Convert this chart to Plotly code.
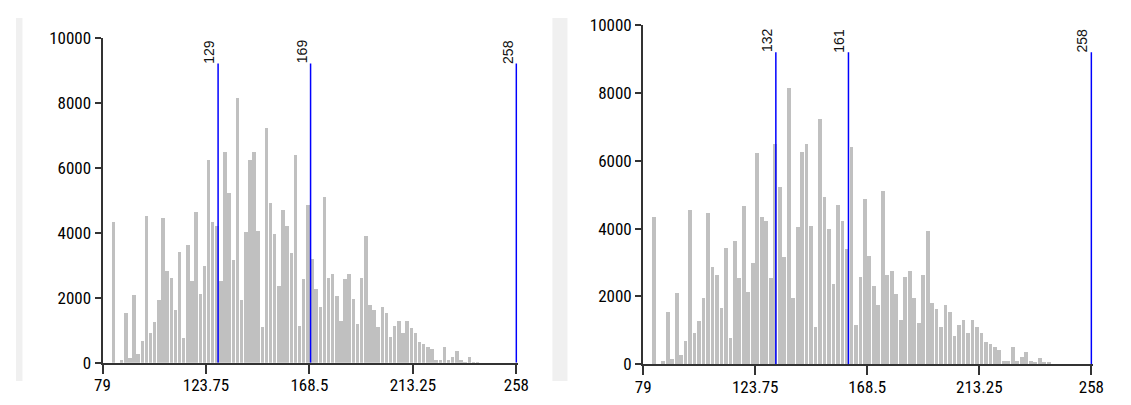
import plotly.graph_objects as go

# ---- data ----
x_min = 79
x_max = 258
n_bins = 100
counts = [0, 0, 4350, 0, 100, 1550, 150, 2090, 275, 680,
          4530, 920, 1270, 1935, 4450, 2850, 2630, 1650, 3430, 780,
          3620, 2530, 4660, 2140, 2980, 6240, 4350, 4220, 2530, 6500,
          5230, 3160, 8140, 1950, 4030, 6250, 6480, 4070, 1100, 7240,
          4920, 3970, 2360, 4700, 4210, 3390, 6410, 1140, 2580, 4870,
          3200, 2290, 1730, 5100, 2630, 2740, 2060, 1300, 2580, 2740,
          1960, 1210, 2620, 3920, 1790, 1630, 1100, 1740, 1540, 820,
          1140, 1290, 920, 1290, 1090, 930, 650, 580, 500, 430,
          100, 100, 500, 100, 200, 370, 100, 50, 190, 50,
          50, 0, 0, 0, 0, 0, 0, 0, 0, 0]
x_tick_vals = [79, 123.75, 168.5, 213.25, 258]
x_tick_text = ["79", "123.75", "168.5", "213.25", "258"]
y_tick_vals = [0, 2000, 4000, 6000, 8000, 10000]
y_tick_text = ["0", "2000", "4000", "6000", "8000", "10000"]
markers_left = [129, 169, 258]
markers_right = [132, 161, 258]
marker_top = 9200

bin_w = (x_max - x_min) / n_bins
centers = [x_min + (i + 0.5) * bin_w for i in range(n_bins)]

# page is 1131x405; the browser body keeps its default 8px margin
PAGE_W, PAGE_H, M = 1131, 405, 8
W, H = PAGE_W - 2 * M, PAGE_H - 2 * M
PAD = 0.6  # small extra room right of 258 so the marker line at 258 is not clipped

def px_x(p):
    return max(0.0, min(1.0, (p - M) / W))

def px_y(p):
    return max(0.0, min(1.0, 1 - (p - M) / H))

def x_domain(p0, p1):
    p1x = p0 + (p1 - p0) * (x_max + PAD - x_min) / (x_max - x_min)
    return [px_x(p0), px_x(p1x)]

fig = go.Figure()
for xa, ya in (("x", "y"), ("x2", "y2")):
    fig.add_trace(go.Bar(x=centers, y=counts, width=bin_w * 0.84,
                         marker=dict(color="#c0c0c0", line=dict(width=0)),
                         xaxis=xa, yaxis=ya, showlegend=False, hoverinfo="x+y"))

tick_font = dict(family="Liberation Sans Narrow, Arial Narrow, Roboto Condensed, Liberation Sans, Arial",
                 size=17, color="#000")

def xaxis_cfg(dom, anchor):
    return dict(domain=dom, anchor=anchor, range=[x_min, x_max + PAD], tickmode="array",
                tickvals=x_tick_vals, ticktext=x_tick_text, showgrid=False, zeroline=False,
                showline=True, linecolor="#333", linewidth=2, ticks="outside", ticklen=9,
                tickwidth=1.5, tickcolor="#333", tickfont=tick_font, fixedrange=True,
                ticklabelstandoff=-3)

def yaxis_cfg(dom, anchor):
    return dict(domain=dom, anchor=anchor, range=[0, 10000], tickmode="array",
                tickvals=y_tick_vals, ticktext=y_tick_text, showgrid=False, zeroline=False,
                showline=True, linecolor="#333", linewidth=2, ticks="outside", ticklen=6,
                tickwidth=1.5, tickcolor="#333", tickfont=tick_font, fixedrange=True)

fig.update_layout(
    width=W, height=H, margin=dict(l=0, r=0, t=0, b=0),
    paper_bgcolor="white", plot_bgcolor="white",
    xaxis=xaxis_cfg(x_domain(96, 517), "y"),
    yaxis=yaxis_cfg([px_y(377.5), px_y(29)], "x"),
    xaxis2=xaxis_cfg(x_domain(646, 1102), "y2"),
    yaxis2=yaxis_cfg([px_y(379), px_y(15.6)], "x2"),
    bargap=0,
)

shapes = [
    dict(type="rect", xref="paper", yref="paper", x0=px_x(2), x1=px_x(14.6), y0=px_y(405), y1=px_y(0),
         fillcolor="#f0f0f0", line=dict(width=0), layer="below"),
    dict(type="rect", xref="paper", yref="paper", x0=px_x(553.7), x1=px_x(569), y0=px_y(405), y1=px_y(0),
         fillcolor="#f0f0f0", line=dict(width=0), layer="below"),
]
annotations = []
for vals, xr, yr in ((markers_left, "x", "y"), (markers_right, "x2", "y2")):
    for v in vals:
        shapes.append(dict(type="line", xref=xr, yref=yr, x0=v, x1=v, y0=0, y1=marker_top,
                           line=dict(color="#0000ff", width=1.5)))
        annotations.append(dict(xref=xr, yref=yr, x=v, y=marker_top, text=str(v), textangle=-90,
                                showarrow=False, xanchor="right", yanchor="bottom", xshift=1, yshift=-2,
                                font=dict(family="Liberation Sans, Arial", size=14, color="#111")))

fig.update_layout(shapes=shapes, annotations=annotations)
fig.write_html("out.html", config={"displayModeBar": False})
